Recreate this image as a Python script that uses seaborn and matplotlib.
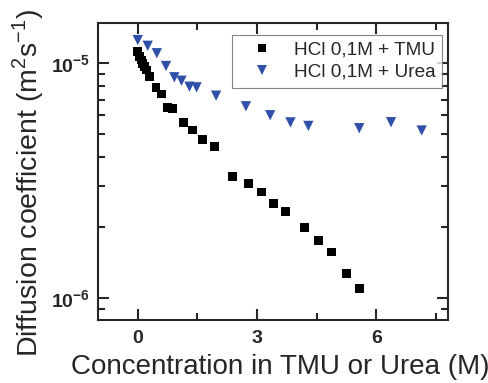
import pandas as pd
import matplotlib
matplotlib.use('Agg')
import matplotlib.pyplot as plt
import matplotlib.ticker as mticker
import seaborn as sns
import numpy as np

# data (concentration in M, D in m^2/s)
tmu_conc = [0.0, 0.04, 0.085, 0.126, 0.17, 0.21, 0.29, 0.46, 0.59, 0.75, 0.88,
            1.15, 1.38, 1.62, 1.93, 2.39, 2.78, 3.12, 3.42, 3.71, 4.19, 4.54,
            4.87, 5.24, 5.57]
tmu_D = [1.12e-5, 1.067e-5, 1.033e-5, 1.0e-5, 0.967e-5, 0.936e-5, 0.877e-5,
         0.79e-5, 0.74e-5, 0.65e-5, 0.644e-5, 0.559e-5, 0.52e-5, 0.472e-5,
         0.442e-5, 0.329e-5, 0.308e-5, 0.283e-5, 0.252e-5, 0.233e-5, 0.199e-5,
         0.175e-5, 0.157e-5, 0.127e-5, 0.110e-5]

urea_conc = [0.0, 0.25, 0.48, 0.71, 0.92, 1.1, 1.3, 1.48, 1.97, 2.72, 3.33,
             3.84, 4.29, 5.57, 6.37, 7.14]
urea_D = [1.256e-5, 1.188e-5, 1.104e-5, 0.974e-5, 0.872e-5, 0.843e-5,
          0.795e-5, 0.79e-5, 0.728e-5, 0.656e-5, 0.601e-5, 0.56e-5, 0.541e-5,
          0.529e-5, 0.561e-5, 0.517e-5]

labels = ['HCl 0,1M + TMU', 'HCl 0,1M + Urea']

df = pd.concat([
    pd.DataFrame({'conc': tmu_conc, 'D': tmu_D, 'sample': labels[0]}),
    pd.DataFrame({'conc': urea_conc, 'D': urea_D, 'sample': labels[1]}),
])

sns.set_style('ticks')
plt.rcParams['font.family'] = ['Liberation Sans', 'DejaVu Sans']
plt.rcParams['mathtext.fontset'] = 'custom'
plt.rcParams['mathtext.rm'] = 'Liberation Sans'
plt.rcParams['mathtext.bf'] = 'Liberation Sans:bold'

fig = plt.figure(figsize=(4.89, 3.83), dpi=100)
ax = fig.add_axes([0.2004, 0.1645, 0.7156, 0.7762])

sns.scatterplot(data=df, x='conc', y='D', hue='sample', style='sample',
                palette={labels[0]: 'black', labels[1]: '#2f4fa8'},
                markers={labels[0]: 's', labels[1]: 'v'},
                size='sample', sizes={labels[0]: 40, labels[1]: 55},
                linewidth=0, ax=ax)

ax.set_yscale('log')
ax.set_xlim(-1.0, 7.8)
ax.set_ylim(8.05e-7, 1.49e-5)

ax.xaxis.set_major_locator(mticker.MultipleLocator(3))
ax.xaxis.set_minor_locator(mticker.MultipleLocator(1.5))
ax.yaxis.set_major_locator(mticker.LogLocator(base=10))
ax.yaxis.set_minor_locator(mticker.LogLocator(base=10, subs=np.arange(2, 10)))
ax.yaxis.set_minor_formatter(mticker.NullFormatter())
ax.yaxis.set_major_formatter(mticker.FuncFormatter(
    lambda v, p: r'$\mathbf{10^{%d}}$' % int(round(np.log10(v)))))

ax.tick_params(which='both', direction='in', top=True, right=True, width=1.5)
ax.tick_params(which='major', length=8, labelsize=14)
ax.tick_params(axis='x', which='major', pad=7)
ax.tick_params(axis='y', which='major', pad=6)
ax.tick_params(which='minor', length=5)
for lab in ax.get_xticklabels():
    lab.set_fontweight('bold')
for sp in ax.spines.values():
    sp.set_linewidth(1.5)

ax.set_xlabel('Concentration in TMU or Urea (M)', fontsize=20)
ax.set_ylabel(r'Diffusion coefficient (m$^{2}$s$^{-1}$)', fontsize=20.5)
ax.xaxis.set_label_coords(0.52, -0.115)
ax.yaxis.set_label_coords(-0.15, 0.461)

handles, _ = ax.get_legend_handles_labels()
leg = ax.legend(handles=handles[-2:] if len(handles) > 2 else handles,
                labels=labels, loc='upper right', bbox_to_anchor=(1.01, 0.991),
                fontsize=13.7, frameon=True, fancybox=False, edgecolor='#666666',
                handlelength=2.5, handletextpad=0.4, borderpad=0.35,
                labelspacing=0.25, markerscale=1.0)
leg.get_frame().set_linewidth(0.8)

fig.savefig('out.png', dpi=100)
